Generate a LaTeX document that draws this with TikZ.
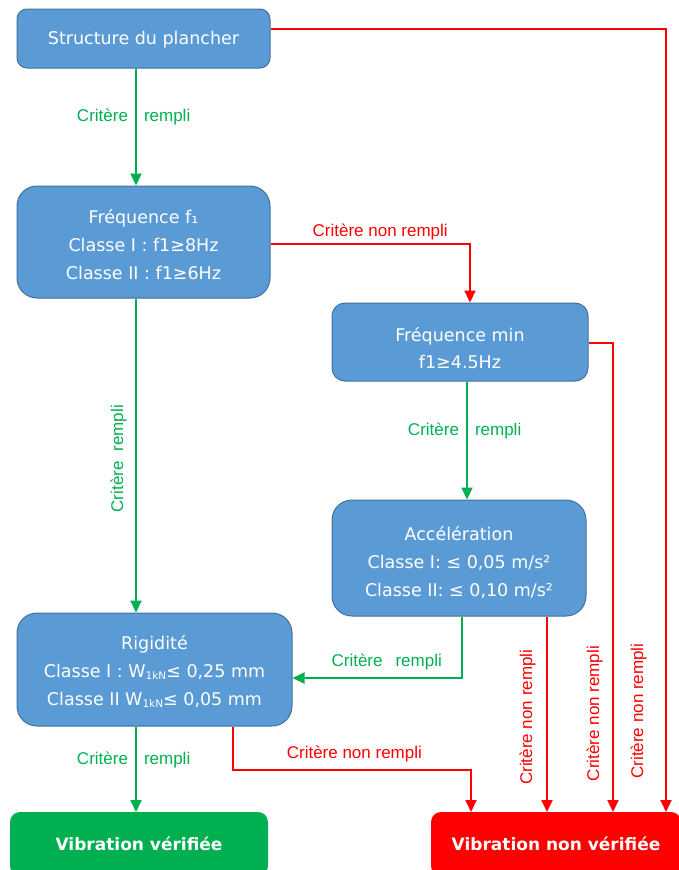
\documentclass[tikz,border=0pt]{standalone}
\usepackage{fontspec}
\setmainfont{DejaVu Sans}
\newfontfamily\lblfont{Liberation Sans}
\usetikzlibrary{arrows.meta,calc}
\definecolor{boxblue}{HTML}{5B9BD5}
\definecolor{boxedge}{HTML}{41719C}
\definecolor{okgreen}{HTML}{00B050}
\definecolor{nokred}{HTML}{FF0000}
\newcommand{\subkn}{\raisebox{-0.3ex}{\fontsize{10.5}{10.5}\selectfont 1kN}}
\begin{document}
\begin{tikzpicture}[x=1pt,y=-1pt,
  box/.style={draw=boxedge, line width=1pt, fill=boxblue, inner sep=0pt},
  boxtext/.style={text=white, align=center, font=\fontsize{17.5}{28}\selectfont, inner sep=0pt},
  endbox/.style={line width=0pt, text=white, align=center,
    font=\fontsize{17}{20}\selectfont\bfseries, inner sep=0pt, rounded corners=10pt},
  gline/.style={draw=okgreen, line width=2pt, -{Triangle[length=12pt,width=11pt]}},
  rline/.style={draw=nokred, line width=2pt, -{Triangle[length=12pt,width=11pt]}},
  gl/.style={text=okgreen, font=\lblfont\fontsize{17}{20}\selectfont, inner sep=7pt},
  rl/.style={text=nokred, font=\lblfont\fontsize{17}{20}\selectfont, inner sep=3pt},
]
\useasboundingbox (0,0) rectangle (678,870);

% boxes
\node[box, minimum width=253pt, minimum height=59pt, rounded corners=10pt,
  label={[boxtext, yshift=-1pt]center:Structure du plancher}] (B1) at (143.5,38.5) {};
\node[box, minimum width=253pt, minimum height=112pt, rounded corners=20pt,
  label={[boxtext, yshift=-3pt]center:{Fréquence f₁\\Classe I : f1≥8Hz\\Classe II : f1≥6Hz}}] (B2) at (143.5,242) {};
\node[box, minimum width=256pt, minimum height=78pt, rounded corners=13pt,
  label={[boxtext, font=\fontsize{17.5}{27}\selectfont, yshift=-6pt]center:{Fréquence min\\f1≥4.5Hz}}] (B3) at (460,342) {};
\node[box, minimum width=254pt, minimum height=116pt, rounded corners=20pt,
  label={[boxtext, yshift=-5pt]center:{Accélération\\Classe I: ≤ 0,05 m/s²\\Classe II: ≤ 0,10 m/s²}}] (B4) at (459,558) {};
\node[box, minimum width=275pt, minimum height=113pt, rounded corners=20pt,
  label={[boxtext, yshift=-2pt]center:{Rigidité\\Classe I : W\subkn≤ 0,25 mm\\Classe II W\subkn≤ 0,05 mm}}] (B5) at (154.5,669.5) {};
\node[endbox, fill=okgreen, minimum width=258pt, minimum height=64pt] (B6) at (139,844) {Vibration vérifiée};
\node[endbox, fill=nokred, minimum width=250pt, minimum height=64pt] (B7) at (556,844) {Vibration non vérifiée};

% helper coordinates
\coordinate (cL) at (136,0);
\coordinate (cR1) at (666,29);
\coordinate (cM) at (470,244);
\coordinate (cM2) at (467,0);
\coordinate (cR2) at (613,343);
\coordinate (cA) at (547,0);
\coordinate (cG) at (462,678);
\coordinate (cB) at (233,770);
\coordinate (cB2) at (471,770);

% connectors
\draw[gline] (B1.south -| cL) -- node[gl, pos=0.45, anchor=base east]{Critère} node[gl, pos=0.45, anchor=base west]{rempli} (B2.north -| cL);
\draw[rline] (B1.east |- cR1) -- (cR1) -- node[rl, pos=0.871, rotate=90, anchor=south, inner sep=18.4pt]{Critère non rempli} (B7.north -| cR1);
\draw[rline] (B2.east |- cM) -- node[rl, pos=0.55, anchor=south, inner sep=3.4pt]{Critère non rempli} (cM) -- (B3.north -| cM);
\draw[gline] (B2.south -| cL) -- node[gl, pos=0.51, rotate=90, anchor=south, inner sep=8.4pt]{Critère\hspace{10pt}rempli} (B5.north -| cL);
\draw[rline] (B3.east |- cR2) -- (cR2) -- node[rl, pos=0.79, rotate=90, anchor=south, inner sep=9.4pt]{Critère non rempli} (B7.north -| cR2);
\draw[gline] (B3.south -| cM2) -- node[gl, pos=0.454, anchor=base east]{Critère} node[gl, pos=0.454, anchor=base west]{rempli} (B4.north -| cM2);
\draw[gline] (B4.south -| cG) -- (cG) -- node[gl, pos=0.444, anchor=south, inner sep=7.4pt]{Critère\hspace{13pt}rempli} (B5.east |- cG);
\draw[rline] (B4.south -| cA) -- node[rl, pos=0.515, rotate=90, anchor=south, inner sep=10.4pt]{Critère non rempli} (B7.north -| cA);
\draw[rline] (B5.south -| cB) -- (cB) -- node[rl, pos=0.51, anchor=south, inner sep=7.4pt]{Critère non rempli} (cB2) -- (B7.north -| cB2);
\draw[gline] (B5.south -| cL) -- node[gl, pos=0.45, anchor=base east]{Critère} node[gl, pos=0.45, anchor=base west]{rempli} (B6.north -| cL);
\end{tikzpicture}
\end{document}
